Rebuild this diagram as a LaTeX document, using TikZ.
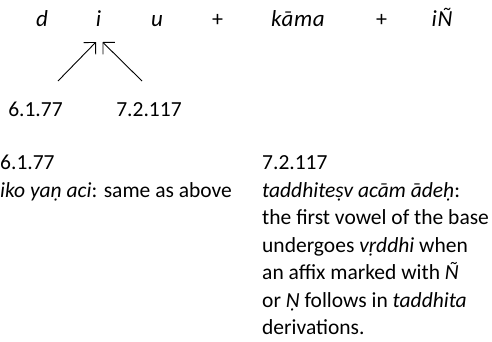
\documentclass[tikz,border=0pt]{standalone}
\usepackage{fontspec}
\setmainfont{Carlito}
\newfontfamily\rowfont[LetterSpace=3]{Carlito}
\usetikzlibrary{arrows.meta}
\begin{document}
\begin{tikzpicture}[x=1pt,y=-1pt,
  row/.style={font=\rowfont\itshape\fontsize{23}{27}\selectfont, anchor=base, inner sep=0pt},
  plus/.style={font=\fontsize{22}{26}\selectfont, anchor=base, inner sep=0pt},
  lab/.style={font=\fontsize{21.5}{25}\selectfont, anchor=base, inner sep=0pt},
  txt/.style={font=\fontsize{21.5}{25}\selectfont, anchor=base west, inner sep=0pt},
  arr/.style={-{Straight Barb[length=8.5pt, width=17pt]}, line width=0.9pt}]
\useasboundingbox (0,0) rectangle (492,341);
% top row
\node[row] (d) at (42,26) {d};
\node[row] (i) at (98.5,26) {i};
\node[row] (u) at (157,26) {u};
\node[plus] (p1) at (217.5,26) {+};
\node[row] (kama) at (298,26) {kāma};
\node[plus] (p2) at (381.5,26) {+};
\node[row] (iN) at (442,26) {iÑ};
% rule labels
\node[lab] (r1) at (35.5,116) {6.1.77};
\node[lab] (r2) at (149,116) {7.2.117};
% arrows
\draw[arr] ([shift={(22.5,-35)}]r1.base) -- ([shift={(-2.5,16)}]i.base);
\draw[arr] ([shift={(-7,-35)}]r2.base) -- ([shift={(4,16)}]i.base);
% left column
\node[txt] (a0) at (0,169.5) {6.1.77};
\node[txt] (a1) at (0,197) {\textit{iko yaṇ aci}: same as above};
% right column
\node[txt] (b0) at (262,169.5) {7.2.117};
\node[txt] (b1) at (262,197) {\textit{taddhiteṣv acām ādeḥ}:};
\node[txt] (b2) at (262,224.5) {the first vowel of the base};
\node[txt] (b3) at (262,252) {undergoes \textit{vṛddhi} when};
\node[txt] (b4) at (262,279.5) {an affix marked with \textit{Ñ}};
\node[txt] (b5) at (262,307) {or \textit{Ṇ} follows in \textit{taddhita}};
\node[txt] (b6) at (262,334.5) {derivations.};
\end{tikzpicture}
\end{document}
